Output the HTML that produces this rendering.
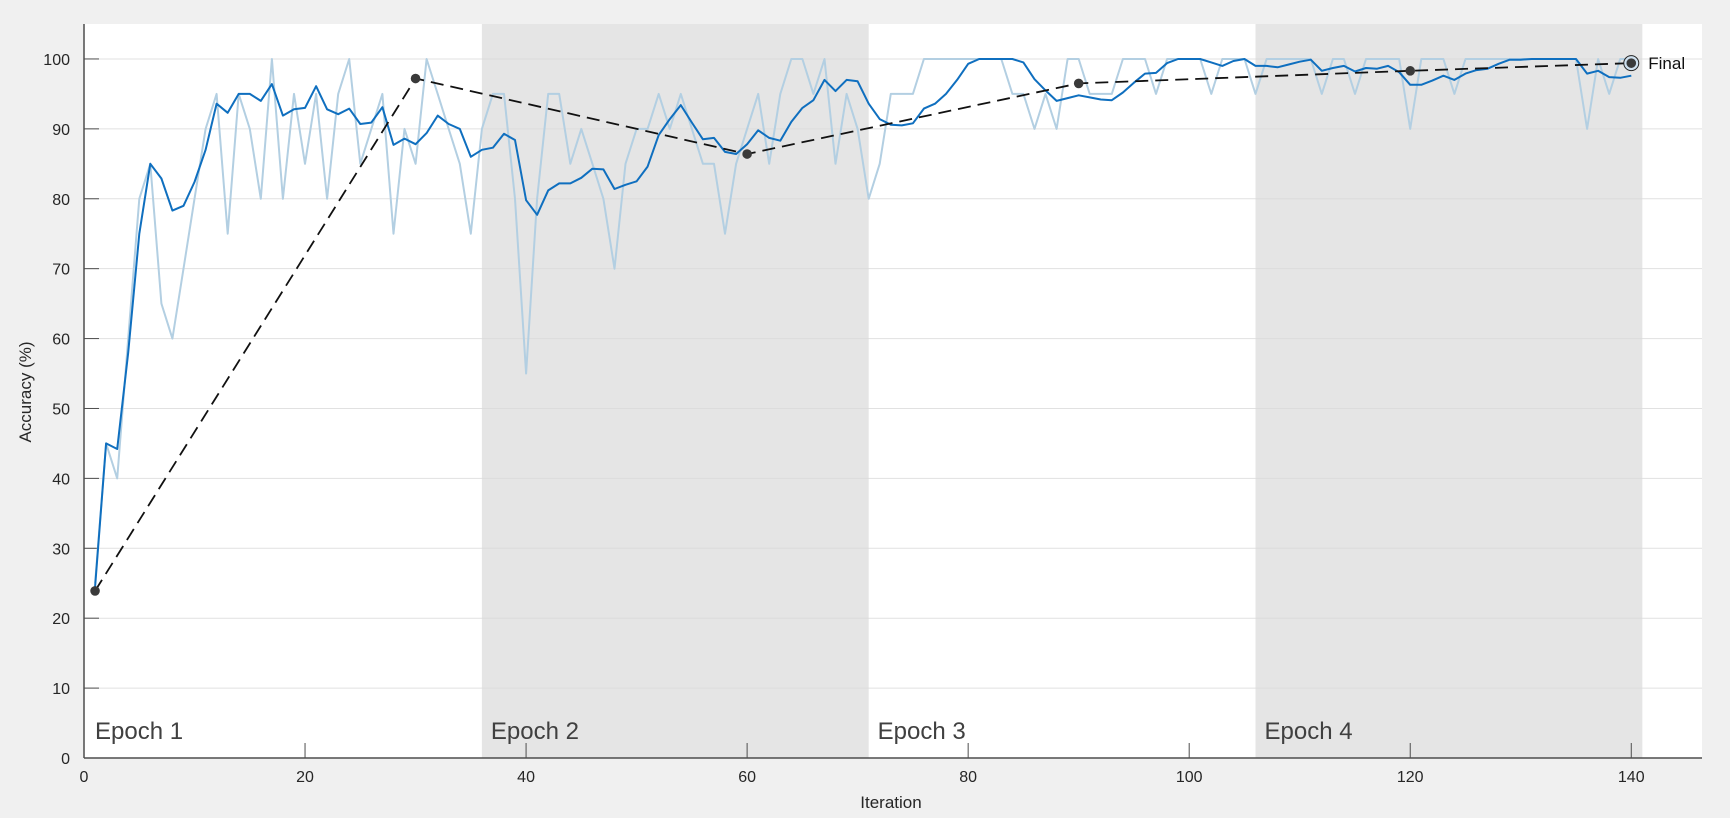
<!DOCTYPE html>
<html><head><meta charset="utf-8"><style>
html,body{margin:0;padding:0;background:#f0f0f0;}
svg{display:block;font-family:"Liberation Sans",Arial,sans-serif;}
</style></head><body>
<svg id="chart" width="1730" height="818" viewBox="0 0 1730 818" xmlns="http://www.w3.org/2000/svg">
<rect x="0" y="0" width="1730" height="818" fill="#f0f0f0"/>
<g id="plot"></g>
<text x="31" y="392" font-size="17" fill="#262626" text-anchor="middle" transform="rotate(-90 31 392)">Accuracy (%)</text>
<text x="891" y="808" font-size="17" fill="#262626" text-anchor="middle">Iteration</text>
</svg>
<script>
const rawAcc = [25,45,40,60,80,85,65,60,70,80,
90,95,75,95,90,80,100,80,95,85,
95,80,95,100,85,90,95,75,90,85,
100,95,90,85,75,90,95,95,80,55,
80,95,95,85,90,85,80,70,85,90,
90,95,90,95,90,85,85,75,85,90,
95,85,95,100,100,95,100,85,95,90,
80,85,95,95,95,100,100,100,100,100,
100,100,100,95,95,90,95,90,100,100,
95,95,95,100,100,100,95,100,100,100,
100,95,100,100,100,95,100,100,100,100,
100,95,100,100,95,100,100,100,100,90,
100,100,100,95,100,100,100,100,100,100,
100,100,100,100,100,90,100,95,100,100];
const smoothAcc = [24.5,45,44.2,58,75,85,82.9,78.3,79,82.4,
87,93.6,92.3,95,95,94,96.4,91.9,92.8,93,
96.1,92.8,92.1,92.9,90.7,90.9,93.1,87.7,88.6,87.8,
89.4,91.9,90.7,90,86,87,87.3,89.3,88.4,79.8,
77.7,81.2,82.2,82.2,83,84.3,84.2,81.4,82,82.5,
84.6,89.1,91.4,93.4,90.9,88.5,88.7,86.7,86.4,87.8,
89.8,88.7,88.3,91,93,94.1,97,95.4,97,96.8,
93.6,91.4,90.6,90.5,90.8,92.9,93.6,95,97,99.3,
100,100,100,100,99.5,97.1,95.5,94,94.4,94.8,
94.5,94.2,94.1,95.2,96.6,97.9,98,99.4,100,100,
100,99.5,99,99.7,100,99,99,98.8,99.2,99.6,
99.9,98.3,98.7,99,98.2,98.7,98.6,99,98.1,96.3,
96.3,96.9,97.6,97,97.9,98.4,98.6,99.3,99.9,99.9,
100,100,100,100,100,97.9,98.3,97.4,97.3,97.6];
const valIter = [1,30,60,90,120,140];
const valAcc = [23.9,97.2,86.4,96.5,98.3,99.4];
const epochStarts = [1,36,71,106];
const epochEnds = [36,71,106,141];
const epochLabels = ["Epoch 1","Epoch 2","Epoch 3","Epoch 4"];
const xTicks = [0,20,40,60,80,100,120,140];
const yTicks = [0,10,20,30,40,50,60,70,80,90,100];

const L=84,R=1702,T=24,B=758, XMIN=0,XMAX=146.4,YMIN=0,YMAX=105;
function sx(v){return L+(v-XMIN)/(XMAX-XMIN)*(R-L);}
function sy(v){return B-(v-YMIN)/(YMAX-YMIN)*(B-T);}
const NS="http://www.w3.org/2000/svg";
const g=document.getElementById('plot');
function mk(tag,attrs,parent){const e=document.createElementNS(NS,tag);for(const k in attrs)e.setAttribute(k,attrs[k]);(parent||g).appendChild(e);return e;}

let e=mk('rect',{x:L,y:T,width:R-L,height:B-T,fill:'#ffffff'});



for(let k=0;k<epochStarts.length;k++){
  if(k%2===1){
    e=mk('rect',{x:sx(epochStarts[k]),y:T,width:sx(epochEnds[k])-sx(epochStarts[k]),height:B-T,fill:'#e5e5e5'});
    
    
  }
}
yTicks.forEach(t=>{
  if(t>0){
    e=mk('line',{x1:L,x2:R,y1:sy(t),y2:sy(t),stroke:'#d9d9d9','stroke-width':1,'stroke-opacity':0.8});
    
    
  }
});
for(let k=0;k<epochStarts.length;k++){
  e=mk('text',{x:sx(epochStarts[k])+(k===0?0:9),y:739,'font-size':24,fill:'#404040'});
  e.textContent=epochLabels[k];
  
  
}
// axes
e=mk('line',{x1:L,x2:R,y1:B,y2:B,stroke:'#4d4d4d','stroke-width':1.5});


e=mk('line',{x1:L,x2:L,y1:T,y2:B,stroke:'#4d4d4d','stroke-width':1.5});


xTicks.forEach(t=>{
  e=mk('line',{x1:sx(t),x2:sx(t),y1:B,y2:B-15,stroke:'#4d4d4d','stroke-width':1});
  
  
  e=mk('text',{x:sx(t),y:782,'font-size':16,fill:'#262626','text-anchor':'middle'});
  e.textContent=t;
  
  
});
yTicks.forEach(t=>{
  e=mk('line',{x1:L,x2:L+15,y1:sy(t),y2:sy(t),stroke:'#4d4d4d','stroke-width':1});
  
  
  e=mk('text',{x:70,y:sy(t)+6,'font-size':16,fill:'#262626','text-anchor':'end'});
  e.textContent=t;
  
  
});
function pts(xs,ys){return ys.map((v,i)=>sx(xs[i]).toFixed(1)+','+sy(v).toFixed(1)).join(' ');}
const iters=rawAcc.map((_,i)=>i+1);
e=mk('polyline',{points:pts(iters,rawAcc),fill:'none',stroke:'#b3cfe2','stroke-width':2,'stroke-linejoin':'round'});


e=mk('polyline',{points:pts(iters,smoothAcc),fill:'none',stroke:'#0f6fbf','stroke-width':2,'stroke-linejoin':'round'});


e=mk('polyline',{points:pts(valIter,valAcc),fill:'none',stroke:'#111','stroke-width':1.8,'stroke-dasharray':'13 7'});


valIter.forEach((it,i)=>{
  const last=i===valIter.length-1;
  if(last){
    e=mk('circle',{cx:sx(it),cy:sy(valAcc[i]),r:7.5,fill:'#cfe0ee',stroke:'#222','stroke-width':1});
    
    
  }
  e=mk('circle',{cx:sx(it),cy:sy(valAcc[i]),r:4.8,fill:'#3a3a3a'});
  
  
});
e=mk('text',{x:sx(valIter[valIter.length-1])+17,y:sy(valAcc[valAcc.length-1])+6,'font-size':17,fill:'#111'});
e.textContent='Final';


</script>
</body></html>
